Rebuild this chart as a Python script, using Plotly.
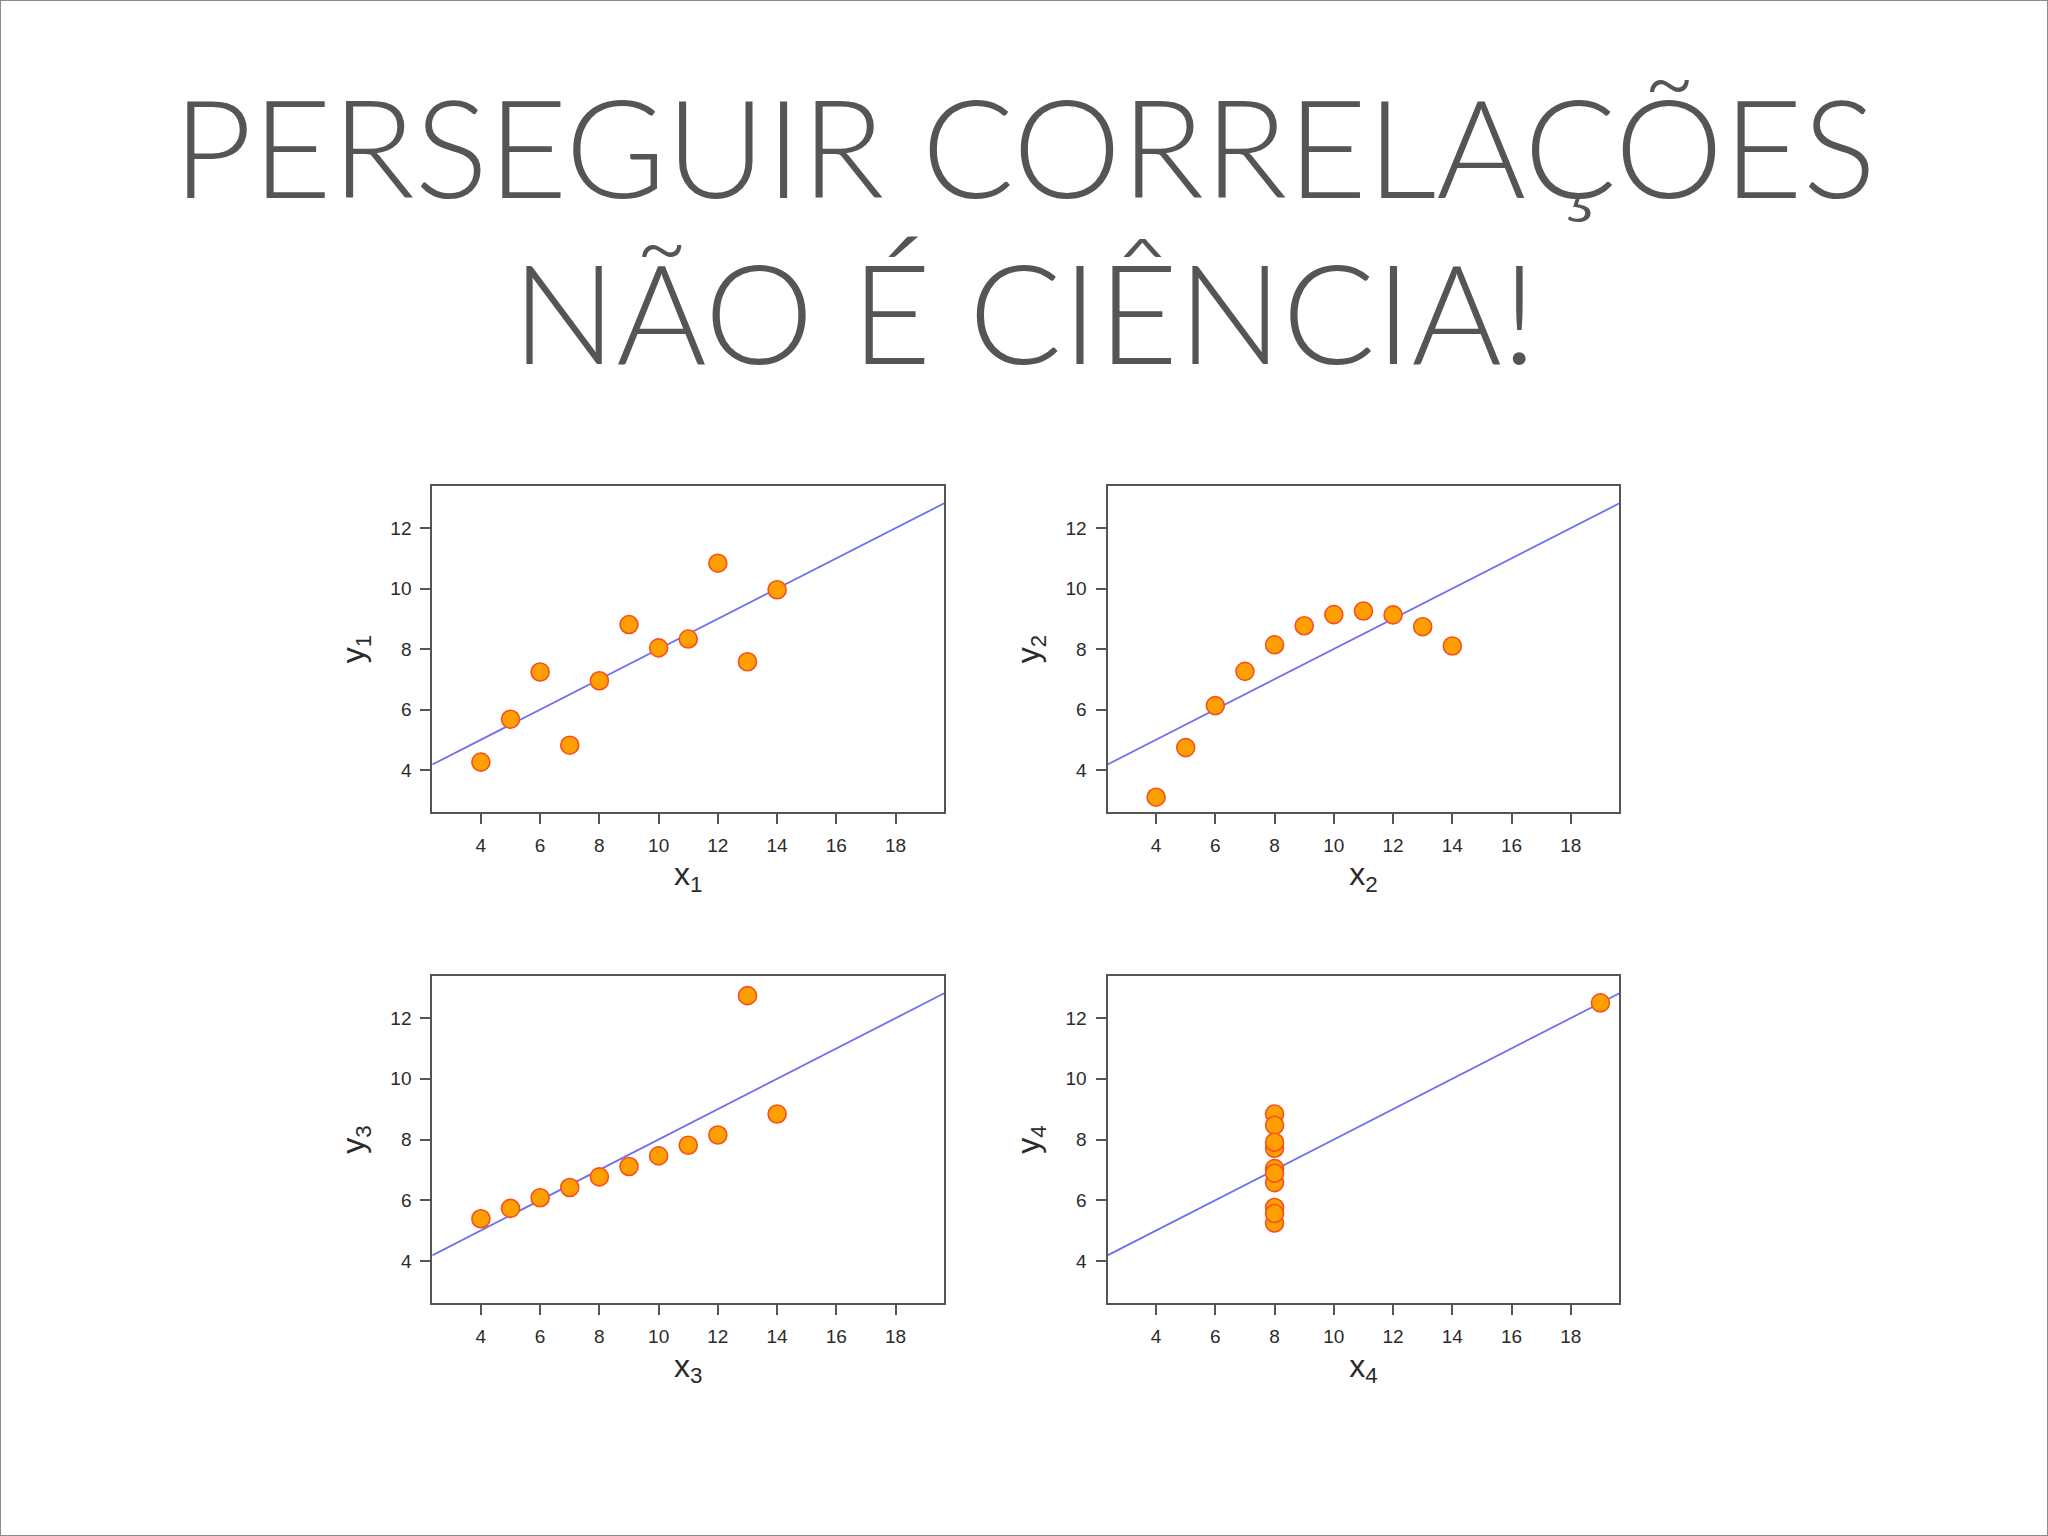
import numpy as np
import plotly.graph_objects as go

# Anscombe's quartet
x123 = [10, 8, 13, 9, 11, 14, 6, 4, 12, 7, 5]
y1 = [8.04, 6.95, 7.58, 8.81, 8.33, 9.96, 7.24, 4.26, 10.84, 4.82, 5.68]
y2 = [9.14, 8.14, 8.74, 8.77, 9.26, 8.10, 6.13, 3.10, 9.13, 7.26, 4.74]
y3 = [7.46, 6.77, 12.74, 7.11, 7.81, 8.84, 6.08, 5.39, 8.15, 6.42, 5.73]
x4 = [8, 8, 8, 8, 8, 8, 8, 19, 8, 8, 8]
y4 = [6.58, 5.76, 7.71, 8.84, 8.47, 7.04, 5.25, 12.50, 5.56, 7.91, 6.89]

x_ticks = [4, 6, 8, 10, 12, 14, 16, 18]
y_ticks = [4, 6, 8, 10, 12]
X_RANGE = [2.36, 19.64]
Y_RANGE = [2.6, 13.4]

title_line1 = "PERSEGUIR CORRELAÇÕES"
title_line2 = "NÃO É CIÊNCIA!"

panels = [
    (x123, y1, "1"),
    (x123, y2, "2"),
    (x123, y3, "3"),
    (x4, y4, "4"),
]

W, H = 2048, 1536
dom_x = [(432.3 / W, 944.2 / W), (1107.5 / W, 1619.4 / W)]
dom_y = [(1 - 812.3 / H, 1 - 485.8 / H), (1 - 1303.4 / H, 1 - 975.6 / H)]

TXT = "#2b2b2b"
FONT = "Liberation Sans, Arial, sans-serif"

fig = go.Figure()
layout = {}
for i, (xs, ys, lab) in enumerate(panels):
    k = "" if i == 0 else str(i + 1)
    xa, ya = "x" + k, "y" + k
    slope, intercept = np.polyfit(xs, ys, 1)
    lx = np.array(X_RANGE)
    fig.add_trace(go.Scatter(
        x=lx, y=intercept + slope * lx, mode="lines",
        line=dict(color="rgba(95,95,240,0.9)", width=1.8),
        xaxis=xa, yaxis=ya, showlegend=False, hoverinfo="skip"))
    fig.add_trace(go.Scatter(
        x=xs, y=ys, mode="markers",
        marker=dict(size=18, color="#FFA000", line=dict(color="#F5501E", width=1.6)),
        xaxis=xa, yaxis=ya, showlegend=False))
    col, row = i % 2, i // 2
    common = dict(showline=True, mirror=True, linecolor="#555555", linewidth=2,
                  showgrid=False, zeroline=False, ticks="outside", ticklen=10,
                  tickwidth=1.8, tickcolor="#555555",
                  tickfont=dict(family=FONT, size=19, color=TXT))
    layout["xaxis" + k] = dict(common, domain=dom_x[col], range=X_RANGE,
                               tickvals=x_ticks, anchor=ya, ticklabelstandoff=5,
                               title=dict(text="x<sub>%s</sub>" % lab, standoff=8,
                                          font=dict(family=FONT, size=32, color=TXT)))
    layout["yaxis" + k] = dict(common, domain=dom_y[row], range=Y_RANGE,
                               tickvals=y_ticks, anchor=xa, ticklabelstandoff=5,
                               title=dict(text="y<sub>%s</sub>" % lab, standoff=16,
                                          font=dict(family=FONT, size=32, color=TXT)))

fig.update_layout(**layout)
fig.update_layout(
    width=W, height=H,
    margin=dict(l=0, r=0, t=0, b=0),
    paper_bgcolor="white", plot_bgcolor="white",
    annotations=[
        dict(text=title_line1, x=0.5, y=1 - 144.5 / H, xref="paper", yref="paper",
             xanchor="center", yanchor="middle", showarrow=False,
             font=dict(family="Lato", size=137, color="#555555", weight=300)),
        dict(text=title_line2, x=0.5, y=1 - 310.5 / H, xref="paper", yref="paper",
             xanchor="center", yanchor="middle", showarrow=False,
             font=dict(family="Lato", size=138, color="#555555", weight=300)),
    ],
    shapes=[dict(type="rect", xref="paper", yref="paper", x0=0, y0=0, x1=1, y1=1,
                 line=dict(color="#8a8a8a", width=2))],
)

fig.write_html("out.html", config={"displayModeBar": False},
               post_script="document.body.style.margin='0';")
